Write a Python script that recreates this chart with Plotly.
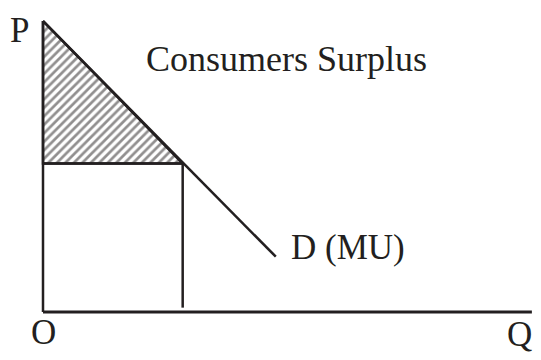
import plotly.graph_objects as go

# ---- data (economic units) ----
price_axis_top = 10.0        # top of P axis
quantity_axis_end = 16.8     # end of Q axis
demand_q = [0.0, 8.0]        # demand curve D (MU)
demand_p = [10.0, 1.9]
market_q = 4.8               # quantity bought
market_p = 5.1               # market price

labels = ["P", "O", "Q", "Consumers Surplus", "D (MU)"]
label_x = [-0.82, 0.03, 16.36, 8.37, 10.48]
label_y = [9.69, -0.70, -0.79, 8.68, 2.23]
label_size = [35, 35, 35, 36, 35]

INK = "#231f20"
FONT = "Liberation Serif"

fig = go.Figure()

# consumer surplus triangle (hatched)
fig.add_trace(go.Scatter(
    x=[0, 0, market_q, 0], y=[demand_p[0], market_p, market_p, demand_p[0]],
    mode="lines", fill="toself", line=dict(color=INK, width=2.5),
    fillcolor="white",
    fillpattern=dict(shape="/", size=6, solidity=0.45, fgcolor=INK, bgcolor="white"),
    hoverinfo="skip", showlegend=False))

# axes
fig.add_trace(go.Scatter(x=[0, 0], y=[0, price_axis_top], mode="lines",
                         line=dict(color=INK, width=2.5), showlegend=False, hoverinfo="skip"))
fig.add_trace(go.Scatter(x=[0, quantity_axis_end], y=[0, 0], mode="lines",
                         line=dict(color=INK, width=3), showlegend=False, hoverinfo="skip"))

# price line and quantity line
fig.add_trace(go.Scatter(x=[0, market_q], y=[market_p, market_p], mode="lines",
                         line=dict(color=INK, width=2.5), showlegend=False, hoverinfo="skip"))
fig.add_trace(go.Scatter(x=[market_q, market_q], y=[0.15, market_p], mode="lines",
                         line=dict(color=INK, width=2.5), showlegend=False, hoverinfo="skip"))

# demand curve
fig.add_trace(go.Scatter(x=demand_q, y=demand_p, mode="lines",
                         line=dict(color=INK, width=2.5), showlegend=False, hoverinfo="skip"))

for t, x, y, s in zip(labels, label_x, label_y, label_size):
    fig.add_annotation(x=x, y=y, text=t, showarrow=False, xanchor="center", yanchor="middle",
                       font=dict(family=FONT, size=s, color=INK))

# page body has an 8px margin, so the figure is 8px smaller and offset accordingly
scale = 29.1
W, H = 533, 352
ox, oy = 35, 304   # origin position inside the figure (px)
fig.update_layout(
    width=W, height=H,
    margin=dict(l=0, r=0, t=0, b=0),
    paper_bgcolor="white", plot_bgcolor="white",
    xaxis=dict(range=[-ox / scale, (W - ox) / scale], visible=False, fixedrange=True),
    yaxis=dict(range=[(oy - H) / scale, oy / scale], visible=False, fixedrange=True),
    showlegend=False,
)

fig.write_html("out.html")
